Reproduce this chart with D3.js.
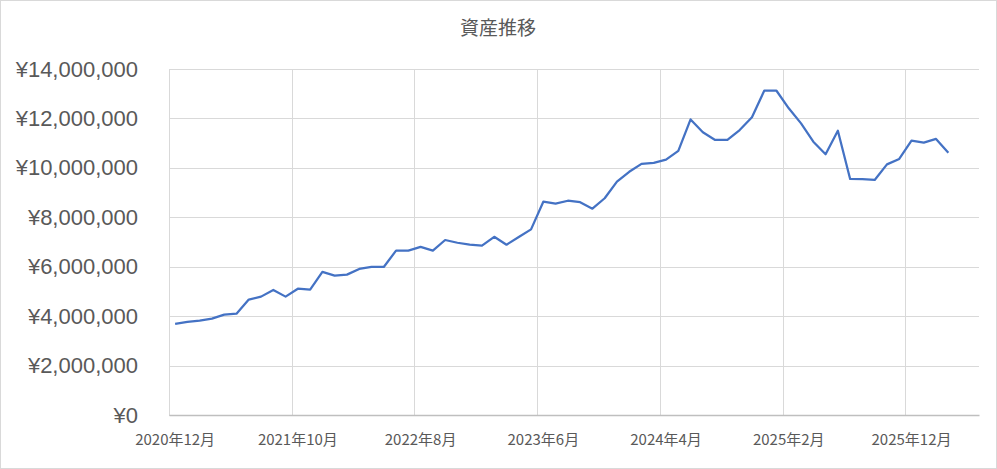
<!DOCTYPE html>
<html>
<head>
<meta charset="utf-8">
<script src="https://cdn.jsdelivr.net/npm/d3@7"></script>
<style>
  html, body { margin: 0; padding: 0; background: #fff; }
  svg { display: block; }
  .title { font-family: "Noto Sans CJK JP", sans-serif; font-size: 19px; fill: #595959; }
  .y-axis text { font-family: "Liberation Sans", Arial, sans-serif; font-size: 22px; fill: #595959; }
  .x-axis text { font-family: "Noto Sans CJK JP", sans-serif; font-size: 15px; fill: #595959; }
</style>
</head>
<body>
<svg id="chart" width="997" height="469"></svg>
<script>
// months on the category axis (2 trailing empty months, as in the source sheet)
const months = [
  '2020年12月',
  '2021年1月', '2021年2月', '2021年3月', '2021年4月', '2021年5月', '2021年6月',
  '2021年7月', '2021年8月', '2021年9月', '2021年10月', '2021年11月', '2021年12月',
  '2022年1月', '2022年2月', '2022年3月', '2022年4月', '2022年5月', '2022年6月',
  '2022年7月', '2022年8月', '2022年9月', '2022年10月', '2022年11月', '2022年12月',
  '2023年1月', '2023年2月', '2023年3月', '2023年4月', '2023年5月', '2023年6月',
  '2023年7月', '2023年8月', '2023年9月', '2023年10月', '2023年11月', '2023年12月',
  '2024年1月', '2024年2月', '2024年3月', '2024年4月', '2024年5月', '2024年6月',
  '2024年7月', '2024年8月', '2024年9月', '2024年10月', '2024年11月', '2024年12月',
  '2025年1月', '2025年2月', '2025年3月', '2025年4月', '2025年5月', '2025年6月',
  '2025年7月', '2025年8月', '2025年9月', '2025年10月', '2025年11月', '2025年12月',
  '2026年1月', '2026年2月', '2026年3月', '2026年4月', '2026年5月'
];

// total assets, yen (2020年12月 .. 2026年3月)
const assets = [
  3690000, 3770000, 3820000, 3900000, 4060000, 4100000, 4670000, 4790000,
  5060000, 4790000, 5110000, 5070000, 5790000, 5640000, 5680000, 5910000,
  5990000, 5990000, 6650000, 6650000, 6800000, 6650000, 7080000, 6970000,
  6890000, 6850000, 7210000, 6890000, 7200000, 7510000, 8630000, 8550000,
  8670000, 8610000, 8350000, 8770000, 9440000, 9840000, 10160000, 10200000,
  10330000, 10690000, 11960000, 11440000, 11130000, 11130000, 11530000, 12050000,
  13120000, 13120000, 12410000, 11800000, 11060000, 10550000, 11500000, 9550000,
  9540000, 9510000, 10140000, 10360000, 11100000, 11020000, 11170000, 10610000
];

const xLabels = ['2020年12月', '2021年10月', '2022年8月', '2023年6月', '2024年4月', '2025年2月', '2025年12月'];
const yTicks = [0, 2000000, 4000000, 6000000, 8000000, 10000000, 12000000, 14000000];

const W = 997, H = 469;
const plot = { left: 169, right: 979, top: 69, bottom: 415 };

const svg = d3.select('#chart');

// outer chart border
svg.append('rect')
  .attr('x', 0.5).attr('y', 0.5).attr('width', W - 1).attr('height', H - 1)
  .attr('fill', '#fff').attr('stroke', '#d9d9d9');

svg.append('text').attr('class', 'title')
  .attr('x', 498).attr('y', 26).attr('text-anchor', 'middle')
  .attr('dominant-baseline', 'central')
  .text('資産推移');

const x = d3.scaleBand().domain(months).range([plot.left, plot.right]).padding(0);
const y = d3.scaleLinear().domain([0, 14000000]).range([plot.bottom, plot.top]);

// horizontal gridlines + y labels
const yAxis = svg.append('g').attr('class', 'y-axis')
  .attr('transform', `translate(${plot.left},0)`)
  .call(d3.axisLeft(y).tickValues(yTicks)
    .tickFormat(d => '¥' + d3.format(',')(d))
    .tickSize(-(plot.right - plot.left)).tickPadding(31));
yAxis.select('.domain').remove();
yAxis.selectAll('.tick line').attr('stroke', '#d9d9d9').attr('stroke-width', 1)
  .attr('shape-rendering', 'crispEdges');

// vertical gridlines between categories, every 10 months
const vGrid = svg.append('g');
xLabels.forEach(m => {
  const gx = Math.round(x(m)) + 0.5;
  vGrid.append('line')
    .attr('x1', gx).attr('x2', gx).attr('y1', plot.top).attr('y2', plot.bottom)
    .attr('stroke', '#d9d9d9').attr('stroke-width', 1);
});

// x axis with month labels
const xAxis = svg.append('g').attr('class', 'x-axis')
  .attr('transform', `translate(0,${plot.bottom})`)
  .call(d3.axisBottom(x).tickValues(xLabels).tickSize(0).tickPadding(19));
xAxis.select('.domain').attr('stroke', '#bfbfbf').attr('stroke-width', 1.3);

// asset line
const line = d3.line()
  .x((d, i) => x(months[i]) + x.bandwidth() / 2)
  .y(d => y(d));

svg.append('path')
  .datum(assets)
  .attr('fill', 'none')
  .attr('stroke', '#4472c4')
  .attr('stroke-width', 2.25)
  .attr('stroke-linejoin', 'round')
  .attr('d', line);
</script>
</body>
</html>
